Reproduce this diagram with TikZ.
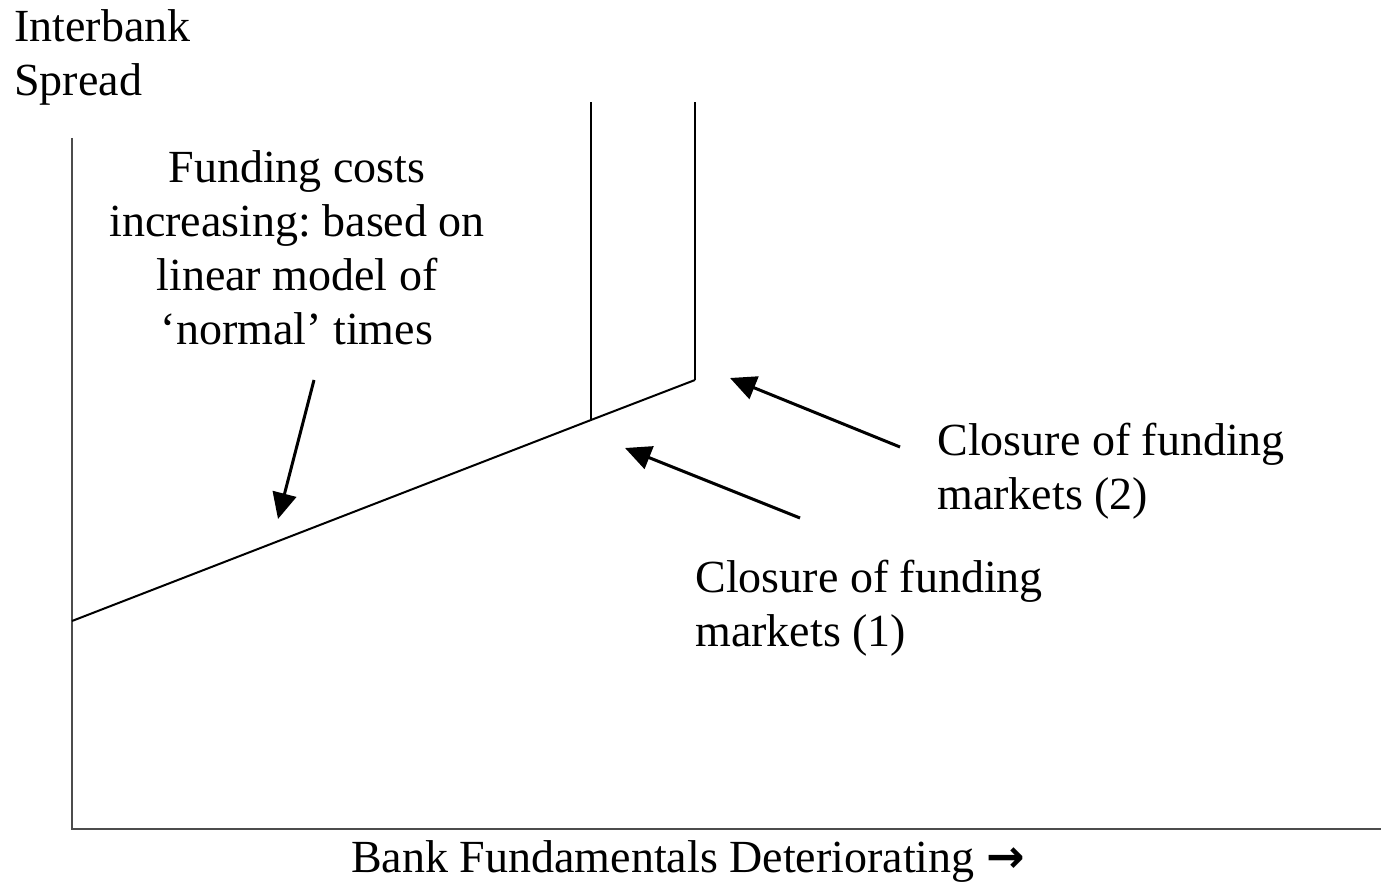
\documentclass[tikz,border=0pt]{standalone}
\usepackage{fontspec}
\setmainfont{Liberation Serif}
\newfontfamily\symfont{DejaVu Sans}
\usetikzlibrary{arrows.meta}
\frenchspacing
\tikzset{
  axis/.style={draw=black!70, line width=1pt},
  curve/.style={draw=black, line width=1pt},
  pointer/.style={draw=black, line width=1.5pt, -{Triangle[length=13pt,width=12pt]}},
  label/.style={font=\fontsize{23}{27}\selectfont, inner sep=0pt},
}
\begin{document}
\begin{tikzpicture}[x=0.5pt, y=-0.5pt]
  \useasboundingbox (0,0) rectangle (1381,882);
  % axes
  \coordinate (ytop) at (72,138);
  \coordinate (origin) at (72,829);
  \coordinate (xend) at (1381,829);
  \draw[axis] (ytop) -- (origin) -- (xend);
  % spread schedule
  \coordinate (start) at (72,621);
  \coordinate (k1) at (591,420);
  \coordinate (k2) at (695,380);
  \coordinate (k1top) at (591,102);
  \coordinate (k2top) at (695,102);
  \draw[curve] (start) -- (k1) -- (k2);
  \draw[curve] (k1) -- (k1top);
  \draw[curve] (k2) -- (k2top);
  % labels
  \node[label, anchor=north west, align=left] (ylab) at (14,9) {Interbank\\Spread};
  \node[label, align=center] (linear) at (297,248) {Funding costs\\increasing: based on\\linear model of\\‘normal’ times};
  \node[label, anchor=west, align=left] (close2) at (937,471) {Closure of funding\\markets (2)};
  \node[label, anchor=west, align=left] (close1) at (695,608) {Closure of funding\\markets (1)};
  \node[label] (xlab) at (688,861) {Bank Fundamentals Deteriorating {\symfont\bfseries →}};
  % pointers
  \coordinate (a0s) at (314,380);
  \coordinate (a0e) at (278,519);
  \coordinate (a1s) at (800,518);
  \coordinate (a1e) at (625,448);
  \coordinate (a2s) at (900,447);
  \coordinate (a2e) at (730,378);
  \draw[pointer] (a0s) -- (a0e);
  \draw[pointer] (a1s) -- (a1e);
  \draw[pointer] (a2s) -- (a2e);
\end{tikzpicture}
\end{document}
